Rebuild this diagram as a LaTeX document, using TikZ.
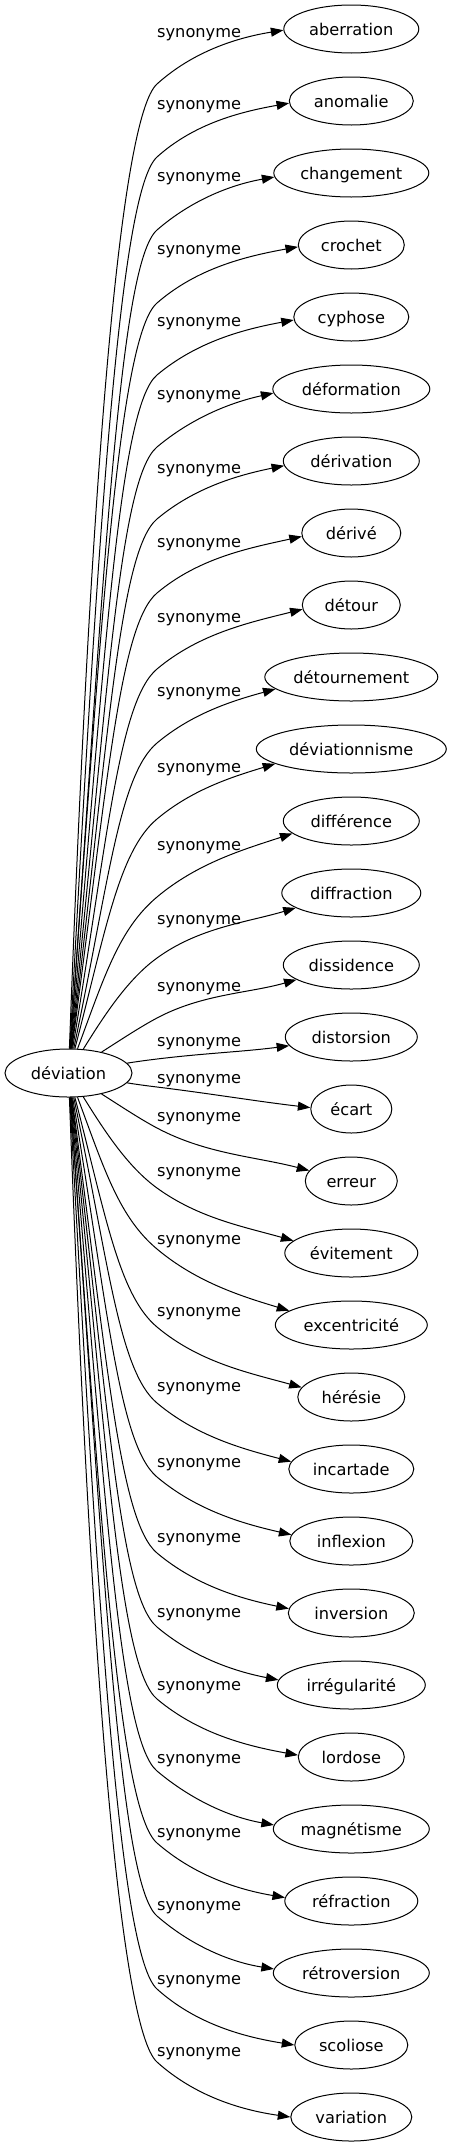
\documentclass[tikz,border=0pt]{standalone}
\usepackage{fontspec}
\setmainfont{DejaVu Sans}
\usetikzlibrary{arrows.meta,shapes.geometric}
\begin{document}
\begin{tikzpicture}[x=1pt,y=-1pt,
  every node/.style={font=\fontsize{16.2}{19}\selectfont},
  word/.style={ellipse, draw, line width=1pt, inner sep=0pt, minimum height=48pt, text height=12pt, text depth=0pt},
  rel/.style={anchor=base west, inner sep=0pt},
  link/.style={line width=1pt, -{Triangle[length=12.5pt,width=9pt]}}]
\useasboundingbox (0,0) rectangle (451,2147);
\node[word, minimum width=127pt] (dev) at (68.5,1073) {déviation};
\def\BA{{25,60,77,84,87,88,88,88,88,88,88,88,88,88,88}}
\def\AA{{7,31,58,68,74,77,80,82,83,84,85,86,86,87,88}}
\def\OA{{22,53,65,76,70,66,64,60,58,58,58,58,57,56,55}}
\def\KA{{7,28,36,40,40,40,40,40,40,40,40,41,41,42,42}}
\def\TA{{7,15,16,17,16,15,13,12,11,11,10,10,9,9,8}}
\foreach \i/\nm/\w/\e/\ly in {
0/aberration/135/2/33,
1/anomalie/124/3/105,
2/changement/155/4.7/177,
3/crochet/106/2/250,
4/cyphose/115/3.3/322,
5/déformation/157/5/395,
6/dérivation/136/5/468.7,
7/dérivé/99/3.7/543,
8/détour/98/5/617.7,
9/détournement/173/12/692.3,
10/déviationnisme/190/15/768.3,
11/différence/136/13/845.7,
12/diffraction/139/15/920,
13/dissidence/136/15/986.7,
14/distorsion/132/9/1041.7,
15/écart/81/-1/1079.3,
16/erreur/92/-10/1116.7,
17/évitement/133/-12/1171.7,
18/excentricité/152/-14/1240,
19/hérésie/107/-9/1311.7,
20/incartade/125/-7/1387,
21/inflexion/123/-6/1463,
22/inversion/126/-4/1538,
23/irrégularité/148/-5/1612.7,
24/lordose/106/-1/1686,
25/magnétisme/156/-4/1759.3,
26/réfraction/133/-3/1832.7,
27/rétroversion/156/-4/1906,
28/scoliose/113/0/1980,
29/variation/121/0/2051.7}{
  \pgfmathsetmacro\yt{29+72*\i}
  \pgfmathtruncatemacro\kk{\i<15 ? 14-\i : \i-15}
  \pgfmathsetmacro\sg{\i<15 ? -1 : 1}
  \pgfmathsetmacro\bb{\BA[\kk]}
  \pgfmathsetmacro\aa{\AA[\kk]}
  \pgfmathsetmacro\oo{\OA[\kk]}
  \pgfmathsetmacro\tk{\KA[\kk]}
  \pgfmathsetmacro\tq{\TA[\kk]}
  \pgfmathsetmacro\sx{68.5+63.5*cos(\bb)}
  \pgfmathsetmacro\sy{1073+(\sg)*24*sin(\bb)}
  \pgfmathsetmacro\ky{\yt-(\sg)*\oo}
  \pgfmathsetmacro\dA{veclen(157-\sx,\ky-\sy)}
  \pgfmathsetmacro\lA{max(0.35*\dA,0.62*\dA-30)}
  \pgfmathsetmacro\lB{min(50,0.3*\dA)}
  \pgfmathsetmacro\rx{\w/2}
  \pgfmathsetmacro\dx{\rx*sqrt(1-((\e)/24)^2)}
  \pgfmathsetmacro\tx{351.3-\dx}
  \pgfmathsetmacro\ty{\yt+(\e)}
  \pgfmathsetmacro\dB{veclen(\tx-157,\ty-\ky)}
  \pgfmathsetmacro\lC{0.35*\dB}
  \pgfmathsetmacro\ang{180+atan((\e)/\dx)}
  \coordinate (k\i) at (157,\ky);
  \node[word, minimum width=\w pt] (t\i) at (351.3,\yt) {\nm};
  \node[rel] (l\i) at (157,\ly+4.4) {synonyme};
  \draw[link] (dev) .. controls ({\sx+\lA*cos(\aa)},{\sy+(\sg)*\lA*sin(\aa)}) and ({157-\lB*cos(\tk)},{\ky-(\sg)*\lB*sin(\tk)}) .. (k\i)
     .. controls ({157+\lC*cos(\tk)},{\ky+(\sg)*\lC*sin(\tk)}) and ({\tx-\lC*cos(\tq)},{\ty-(\sg)*\lC*sin(\tq)}) .. (t\i.\ang);
}
\end{tikzpicture}
\end{document}
